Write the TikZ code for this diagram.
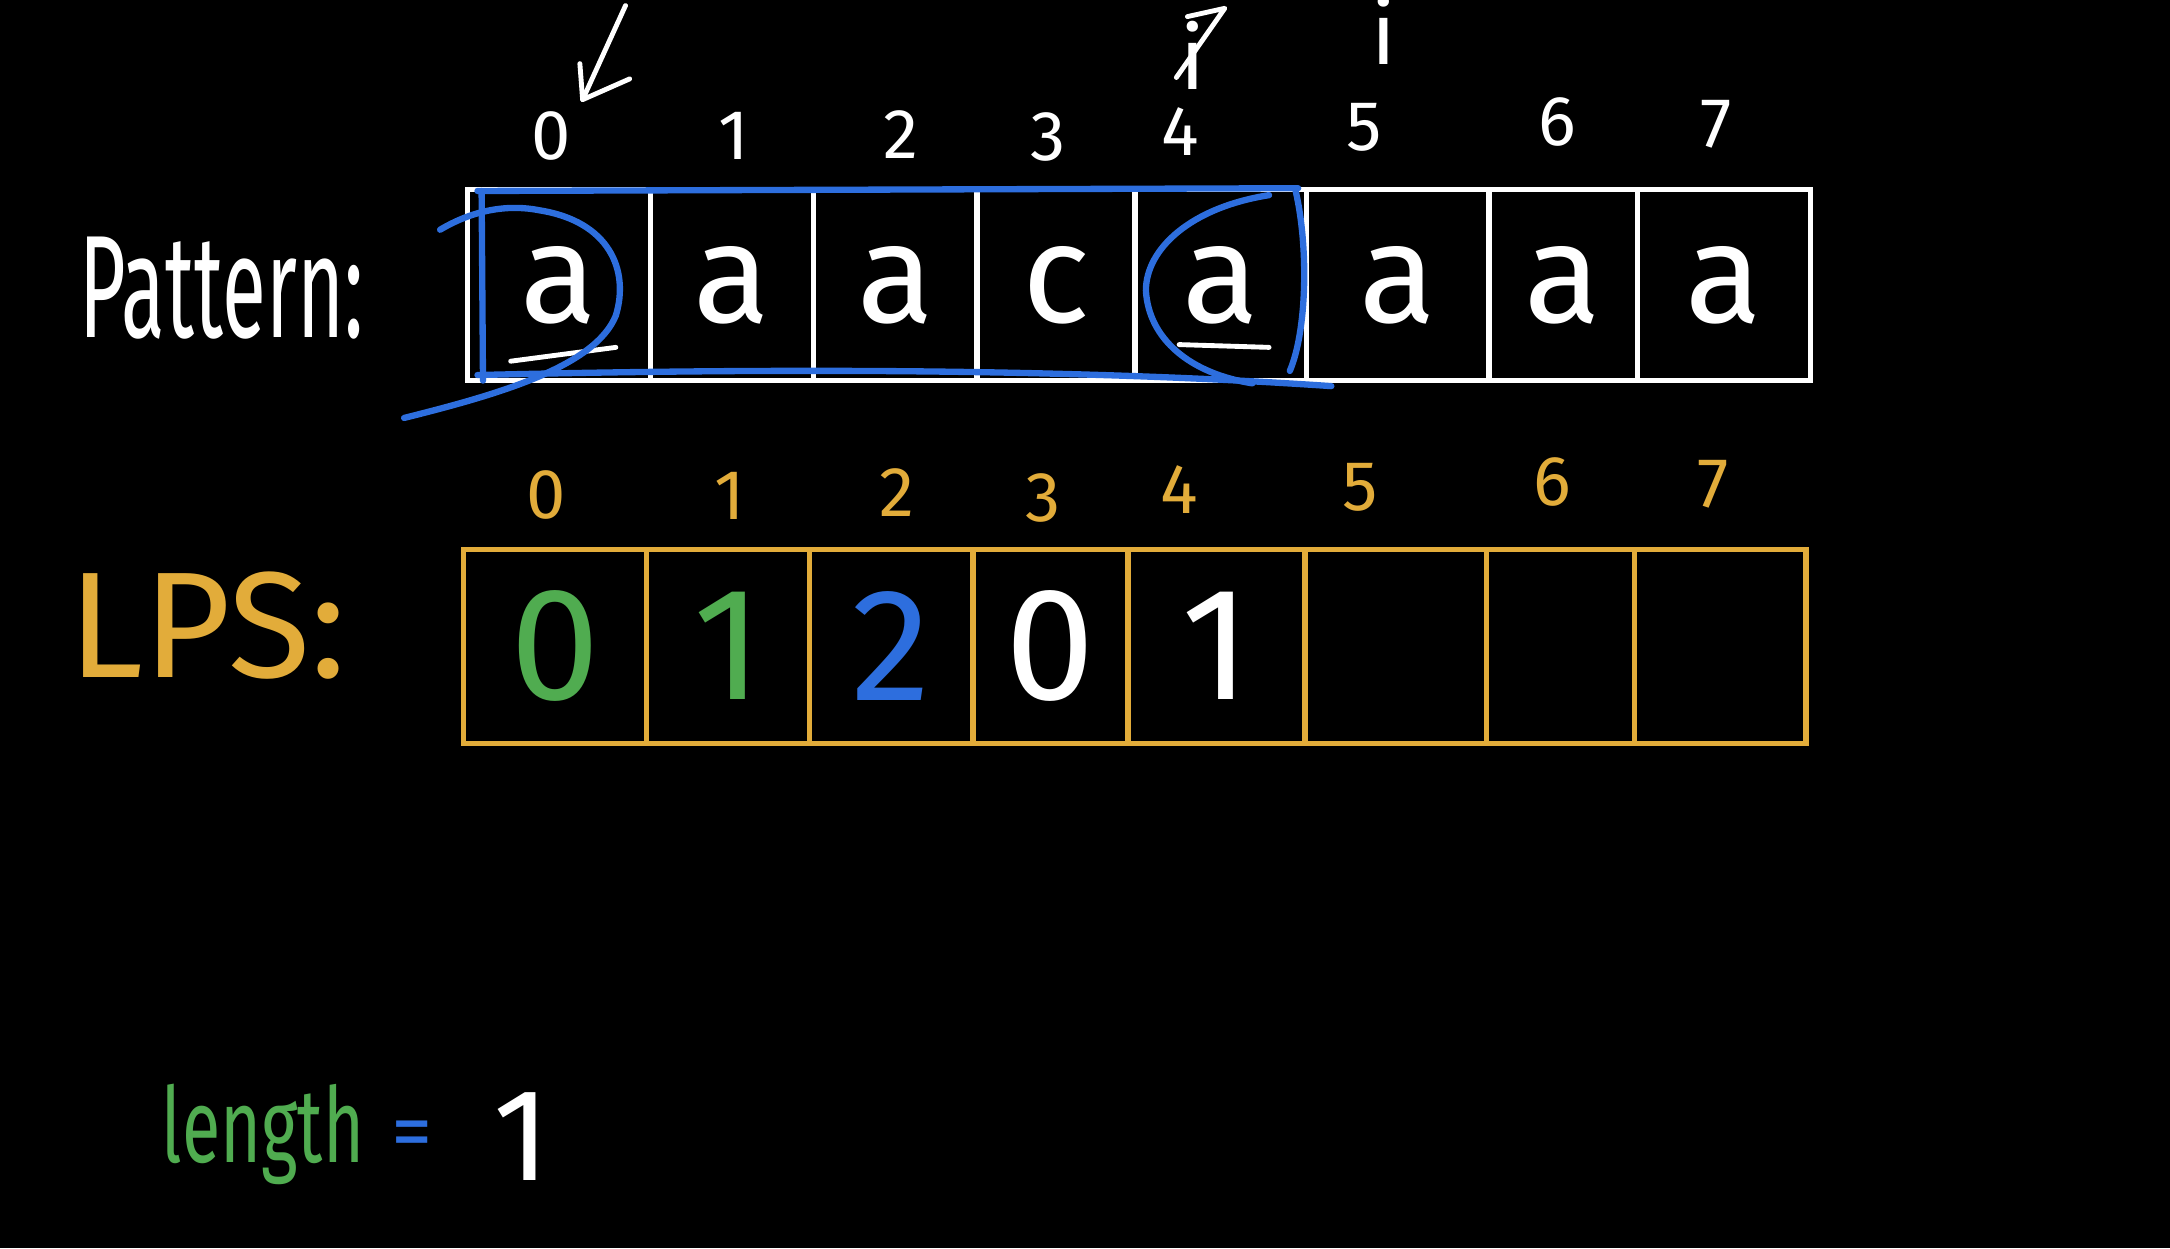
\documentclass[tikz,border=0pt]{standalone}
\usepackage{fontspec}
\usepackage{graphicx}
\setmainfont{Fira Sans}
\usetikzlibrary{arrows.meta}
\definecolor{gold}{RGB}{226,172,58}
\definecolor{hgreen}{RGB}{80,172,80}
\definecolor{hblue}{RGB}{45,110,222}
\newcommand{\fsz}[1]{\fontsize{#1}{#1}\selectfont}
\begin{document}
\begin{tikzpicture}[x=0.2mm,y=-0.2mm,
  pcell/.style={draw=white, line width=2.2pt, minimum height=27.6mm, inner sep=0pt, text=white, font=\fsz{58pt}},
  lcell/.style={draw=gold, line width=2.2pt, minimum height=28mm, inner sep=0pt, font=\fsz{66pt}},
  pidx/.style={text=white, font=\fsz{29pt}, inner sep=0pt},
  lidx/.style={text=gold, font=\fsz{29pt}, inner sep=0pt},
  bluestroke/.style={draw=hblue, line width=2.6pt, line cap=round, line join=round},
  chalk/.style={draw=white, line width=2pt, line cap=round, line join=round}
]
\fill[black] (0,0) rectangle (1568,902);
\useasboundingbox (0,0) rectangle (1568,902);

% labels
\node[text=white, font=\fsz{60pt}, inner sep=0pt] (patlabel) at (160,208) {\scalebox{0.55}[1]{Pattern:}};
\node[text=gold, font=\fsz{62pt}, inner sep=0pt] (lpslabel) at (150,452) {LPS:};

% pattern cells
\foreach \n/\xa/\xb/\ch in {0/338/470/a,1/470/588/a,2/588/706/a,3/706/820/c,4/820/944/a,5/944/1076/a,6/1076/1183/a,7/1183/1308/a}{
  \node[pcell, minimum width={(\xb-\xa)*0.2mm}] (p\n) at ({(\xa+\xb)/2},206) {\ch};
}
% pattern indices
\foreach \n/\x/\y in {0/398/98,1/530/98,2/651/97,3/757/99,4/853/95,5/986/92,6/1125/88,7/1240/90}{
  \node[pidx] (pi\n) at (\x,\y) {\n};
}

% LPS cells
\foreach \n/\xa/\xb/\val/\col in {0/335/467/0/hgreen,1/467/585/1/hgreen,2/585/703/2/hblue,3/703/815/0/white,4/815/943/1/white,5/943/1074//white,6/1074/1181//white,7/1181/1305//white}{
  \node[lcell, text=\col, minimum width={(\xb-\xa)*0.2mm}] (l\n) at ({(\xa+\xb)/2},467) {\val};
}
% LPS indices
\foreach \n/\x/\y in {0/395/358,1/527/358,2/648/356,3/754/360,4/852/354,5/983/352,6/1122/348,7/1238/350}{
  \node[lidx] (li\n) at (\x,\y) {\n};
}

% pointers i
\node[text=white, font=\fsz{36pt}, inner sep=0pt] (iold) at (862,40) {i};
\draw[chalk] (858,12) -- (885,6) -- (850,56);
\node[text=white, font=\fsz{36pt}, inner sep=0pt] (inew) at (1000,22) {i};

% arrow to index 0
\coordinate (arrs) at (452,4);
\coordinate (arrt) at (421,72);
\draw[chalk] (arrs) -- (arrt);
\draw[chalk] (419,46) -- (arrt) -- (455,57);

% underlines
\draw[chalk] (369,261) -- (445,251);
\draw[chalk] (852,249) -- (917,251);

% blue markings
\draw[bluestroke] (345,138) -- (938,136);
\draw[bluestroke] (348,138) -- (349,275);
\draw[bluestroke] (345,271) .. controls (600,265) and (800,268) .. (962,279);
\draw[bluestroke] (936,137) .. controls (946,180) and (944,240) .. (932,268);
\draw[bluestroke] (318,166) .. controls (345,150) and (370,148) .. (390,152) .. controls (440,160) and (455,195) .. (445,228) .. controls (430,265) and (360,285) .. (292,302);
\draw[bluestroke] (917,141) .. controls (860,150) and (828,180) .. (828,210) .. controls (830,245) and (860,270) .. (905,277);

% length = 1
\node[text=hgreen, font=\fsz{43pt}, inner sep=0pt, anchor=base] (lenlabel) at (190,840) {\scalebox{0.67}[1]{length}};
\node[text=hblue, font=\fsz{34pt}, inner sep=0pt, anchor=base] (eqsign) at (298,838) {=};
\node[text=white, font=\fsz{54pt}, inner sep=0pt, anchor=base] (lenval) at (377,853) {1};
\end{tikzpicture}
\end{document}
